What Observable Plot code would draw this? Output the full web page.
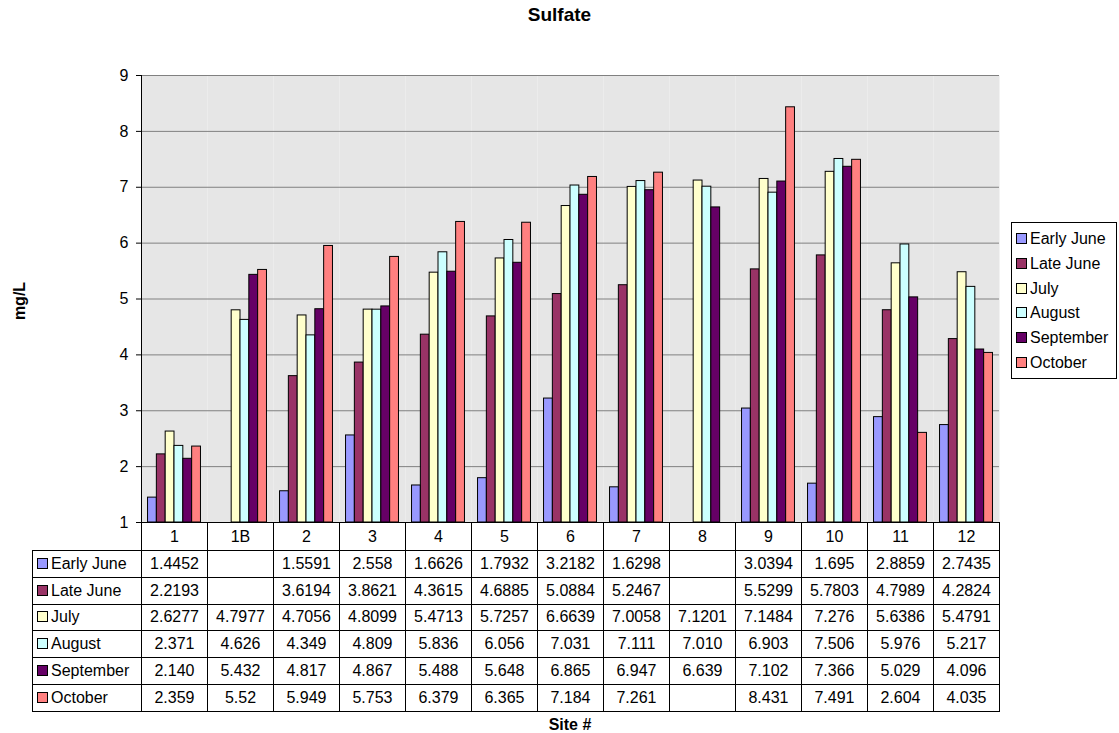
<!DOCTYPE html>
<html><head><meta charset="utf-8">
<script src="https://cdn.jsdelivr.net/npm/d3@7"></script>
<script src="https://cdn.jsdelivr.net/npm/@observablehq/plot@0.6"></script>
<style>
body{margin:0;background:#fff;font-family:"Liberation Sans",Arial,sans-serif;color:#000;}
#wrap{position:relative;width:1119px;height:733px;overflow:hidden;}
#wrap svg{position:absolute;left:0;top:0;}
.title{position:absolute;text-align:center;font-weight:bold;white-space:nowrap;}
#ylab{position:absolute;left:20px;top:301px;transform:translate(-50%,-50%) rotate(-90deg);font-weight:bold;font-size:16px;white-space:nowrap;}
#legend{position:absolute;left:1011px;top:222px;width:106px;height:157px;border:1px solid #000;background:#fff;box-sizing:border-box;padding-top:4px;}
.li{height:24.8px;line-height:24.8px;font-size:16px;white-space:nowrap;padding-left:4px;}
.sw{display:inline-block;width:9px;height:9px;border:1px solid #000;margin-right:3px;vertical-align:0px;}
#tbl{position:absolute;left:32px;top:522px;border-collapse:collapse;table-layout:fixed;font-size:16px;}
#tbl td{border:1px solid #000;text-align:center;padding:0;white-space:nowrap;overflow:hidden;}
#tbl tr.hd td{height:27px;}
#tbl tr.dr td{height:25.8px;vertical-align:middle;}
#tbl td.lab{text-align:left;padding-left:4px;}
#tbl td.blank{border-top:none;border-left:none;}
</style></head><body><div id="wrap"></div>
<script>
const sites = ["1","1B","2","3","4","5","6","7","8","9","10","11","12"];
const seriesNames = ["Early June","Late June","July","August","September","October"];
const seriesColors = ["#9999ff","#993366","#ffffcc","#ccffff","#660066","#ff8080"];
const earlyJune = ["1.4452","","1.5591","2.558","1.6626","1.7932","3.2182","1.6298","","3.0394","1.695","2.8859","2.7435"];
const lateJune  = ["2.2193","","3.6194","3.8621","4.3615","4.6885","5.0884","5.2467","","5.5299","5.7803","4.7989","4.2824"];
const july      = ["2.6277","4.7977","4.7056","4.8099","5.4713","5.7257","6.6639","7.0058","7.1201","7.1484","7.276","5.6386","5.4791"];
const august    = ["2.371","4.626","4.349","4.809","5.836","6.056","7.031","7.111","7.010","6.903","7.506","5.976","5.217"];
const september = ["2.140","5.432","4.817","4.867","5.488","5.648","6.865","6.947","6.639","7.102","7.366","5.029","4.096"];
const october   = ["2.359","5.52","5.949","5.753","6.379","6.365","7.184","7.261","","8.431","7.491","2.604","4.035"];
const seriesValues = [earlyJune, lateJune, july, august, september, october];
const yTicks = [1,2,3,4,5,6,7,8,9];

const rows = [];
seriesNames.forEach((s, i) => sites.forEach((site, j) => {
  const v = seriesValues[i][j];
  if (v !== "") rows.push({site, series: s, value: +v});
}));

const plot = Plot.plot({
  width: 1119, height: 530,
  marginTop: 75, marginBottom: 8, marginLeft: 141, marginRight: 120,
  style: {fontFamily: "'Liberation Sans', Arial, sans-serif", fontSize: "16px", background: "transparent", color: "black"},
  fx: {domain: sites, padding: 0, axis: null},
  x: {domain: seriesNames, paddingInner: 0, paddingOuter: 0.74, round: false, axis: null},
  y: {domain: [1, 9]},
  color: {domain: seriesNames, range: seriesColors},
  marks: [
    Plot.frame({fill: "#e6e6e6", stroke: null}),
    Plot.ruleY(yTicks, {stroke: "#808080", strokeOpacity: 1}),
    Plot.barY(rows, {fx: "site", x: "series", y1: 1, y2: "value", fill: "series", stroke: "black", strokeWidth: 1}),
    Plot.frame({anchor: "left", facetAnchor: "left", stroke: "black", strokeOpacity: 1}),
    Plot.axisY(yTicks, {tickSize: 5, tickPadding: 8, tickFormat: d => String(d), label: null, stroke: "black", strokeOpacity: 1, fontSize: 16})
  ]
});

const wrap = document.getElementById("wrap");
wrap.appendChild(plot);

const t = document.createElement("div");
t.className = "title"; t.textContent = "Sulfate";
t.style.left = "0px"; t.style.width = "1119px";
t.style.top = "4px"; t.style.fontSize = "19px";
wrap.appendChild(t);

const yl = document.createElement("div");
yl.id = "ylab"; yl.textContent = "mg/L";
wrap.appendChild(yl);

const xl = document.createElement("div");
xl.className = "title"; xl.textContent = "Site #";
xl.style.left = "141px"; xl.style.width = "858px";
xl.style.top = "716px"; xl.style.fontSize = "16px";
wrap.appendChild(xl);

// legend
const lg = document.createElement("div");
lg.id = "legend";
seriesNames.forEach((s, i) => {
  const d = document.createElement("div"); d.className = "li";
  const sw = document.createElement("span"); sw.className = "sw"; sw.style.background = seriesColors[i];
  d.appendChild(sw); d.appendChild(document.createTextNode(s));
  lg.appendChild(d);
});
wrap.appendChild(lg);

// data table aligned to the fx scale
const fxs = plot.scale("fx");
const colW = fxs.step;
const tbl = document.createElement("table");
tbl.id = "tbl";
const cg = document.createElement("colgroup");
const c0 = document.createElement("col"); c0.style.width = (141 - 32) + "px"; cg.appendChild(c0);
sites.forEach(() => { const c = document.createElement("col"); c.style.width = colW + "px"; cg.appendChild(c); });
tbl.appendChild(cg);
const hr = document.createElement("tr"); hr.className = "hd";
const b = document.createElement("td"); b.className = "blank"; hr.appendChild(b);
sites.forEach(s => { const td = document.createElement("td"); td.textContent = s; hr.appendChild(td); });
tbl.appendChild(hr);
seriesNames.forEach((s, i) => {
  const tr = document.createElement("tr"); tr.className = "dr";
  const l = document.createElement("td"); l.className = "lab";
  const sw = document.createElement("span"); sw.className = "sw"; sw.style.background = seriesColors[i];
  l.appendChild(sw); l.appendChild(document.createTextNode(s));
  tr.appendChild(l);
  seriesValues[i].forEach(v => { const td = document.createElement("td"); td.textContent = v; tr.appendChild(td); });
  tbl.appendChild(tr);
});
wrap.appendChild(tbl);
</script>
</body></html>
